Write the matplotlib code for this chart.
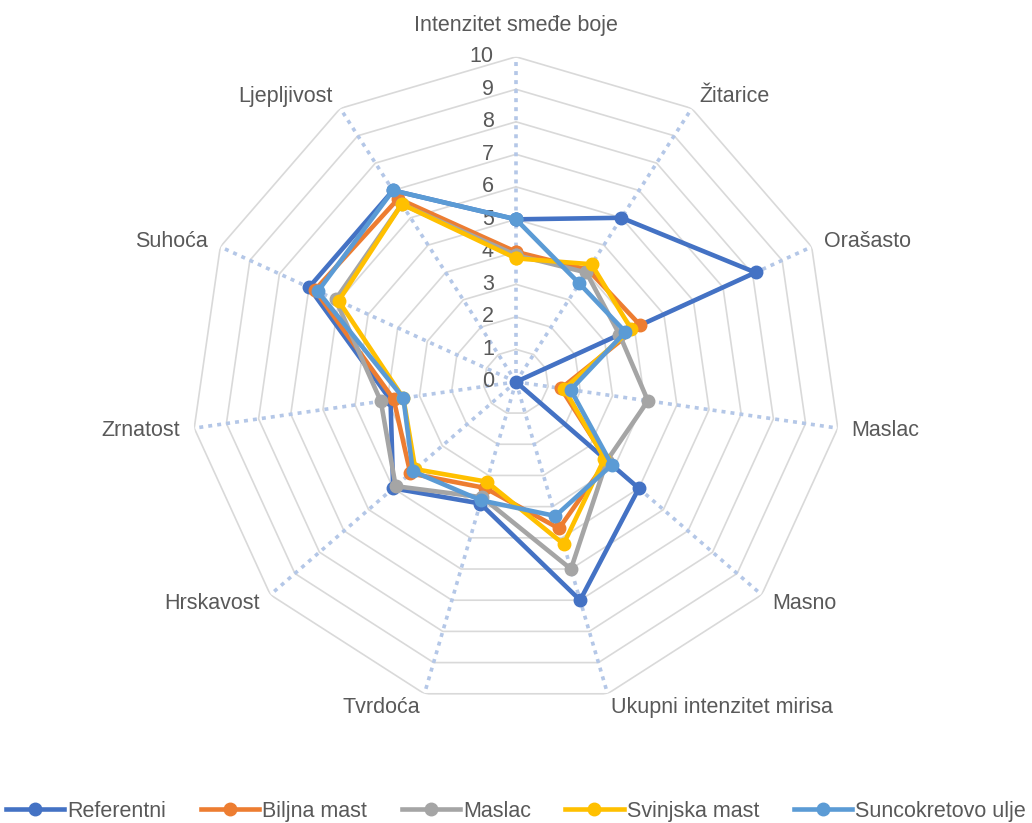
import numpy as np
import matplotlib
matplotlib.use('Agg')
import matplotlib.pyplot as plt

categories = ['Intenzitet smeđe boje', 'Žitarice', 'Orašasto', 'Maslac', 'Masno',
              'Ukupni intenzitet mirisa', 'Tvrdoća', 'Hrskavost', 'Zrnatost',
              'Suhoća', 'Ljepljivost']

referentni = [5.0, 6.0, 8.1, 0.0, 5.0, 7.0, 3.9, 5.0, 3.9, 7.0, 7.0]
biljna_mast = [4.0, 4.1, 4.2, 1.4, 3.7, 4.7, 3.4, 4.3, 3.8, 6.8, 6.7]
maslac = [3.9, 4.0, 3.5, 4.1, 3.7, 6.0, 3.7, 4.9, 4.2, 6.1, 6.5]
svinjska_mast = [3.8, 4.3, 3.9, 1.5, 3.6, 5.2, 3.2, 4.1, 3.5, 6.0, 6.5]
suncokretovo_ulje = [5.0, 3.6, 3.7, 1.7, 3.9, 4.3, 3.8, 4.2, 3.5, 6.7, 7.0]

series = [
    ('Referentni', referentni, '#4472C4'),
    ('Biljna mast', biljna_mast, '#ED7D31'),
    ('Maslac', maslac, '#A5A5A5'),
    ('Svinjska mast', svinjska_mast, '#FFC000'),
    ('Suncokretovo ulje', suncokretovo_ulje, '#5B9BD5'),
]
radial_ticks = list(range(0, 11))

plt.rcParams['font.family'] = ['Liberation Sans', 'DejaVu Sans']
txt_col = '#595959'
fs = 15.5

fig = plt.figure(figsize=(10.32, 8.23), dpi=100)
ax = fig.add_axes([0.185, 0.141, 0.63, 0.79], projection='polar')
ax.set_theta_offset(np.pi / 2)
ax.set_theta_direction(-1)
ax.set_ylim(0, 10)
ax.grid(False)
ax.set_xticks([])
ax.set_yticks([])
ax.spines['polar'].set_visible(False)

n = len(categories)
angles = np.arange(n) * 2 * np.pi / n
closed = np.append(angles, angles[0])

# polygon rings
for r in radial_ticks[1:]:
    ax.plot(closed, [r] * (n + 1), color='#D9D9D9', lw=1.2, zorder=1)

# dotted spokes
for a in angles:
    ax.plot([a, a], [0, 10], color='#B4C7E7', lw=2.6, linestyle=(0, (1.1, 1.4)), zorder=1)

# radial tick labels
for r in radial_ticks:
    ax.annotate(str(r), xy=(0, r), xytext=(-16, 0), textcoords='offset points',
                ha='right', va='center', fontsize=fs, color=txt_col, zorder=2)

# category labels
for a, lab in zip(angles, categories):
    s, c = np.sin(a), np.cos(a)
    if s > 0.1:
        ha = 'left'
    elif s < -0.1:
        ha = 'right'
    else:
        ha = 'center'
    off = 10
    va = 'center'
    if abs(s) < 0.1:
        va = 'bottom'
        off = 15
    ax.annotate(lab, xy=(a, 10), xytext=(off * s, off * c), textcoords='offset points',
                ha=ha, va=va, fontsize=fs, color=txt_col, annotation_clip=False)

for name, vals, col in series:
    ax.plot(closed, vals + vals[:1], color=col, lw=3.3, marker='o', markersize=9,
            label=name, zorder=3)

fig.legend(loc='lower center', ncol=5, bbox_to_anchor=(0.5, -0.022), frameon=False,
           fontsize=fs, handlelength=2.7, columnspacing=1.6, handletextpad=0.15,
           labelcolor=txt_col)

fig.savefig('out.png', dpi=100)
